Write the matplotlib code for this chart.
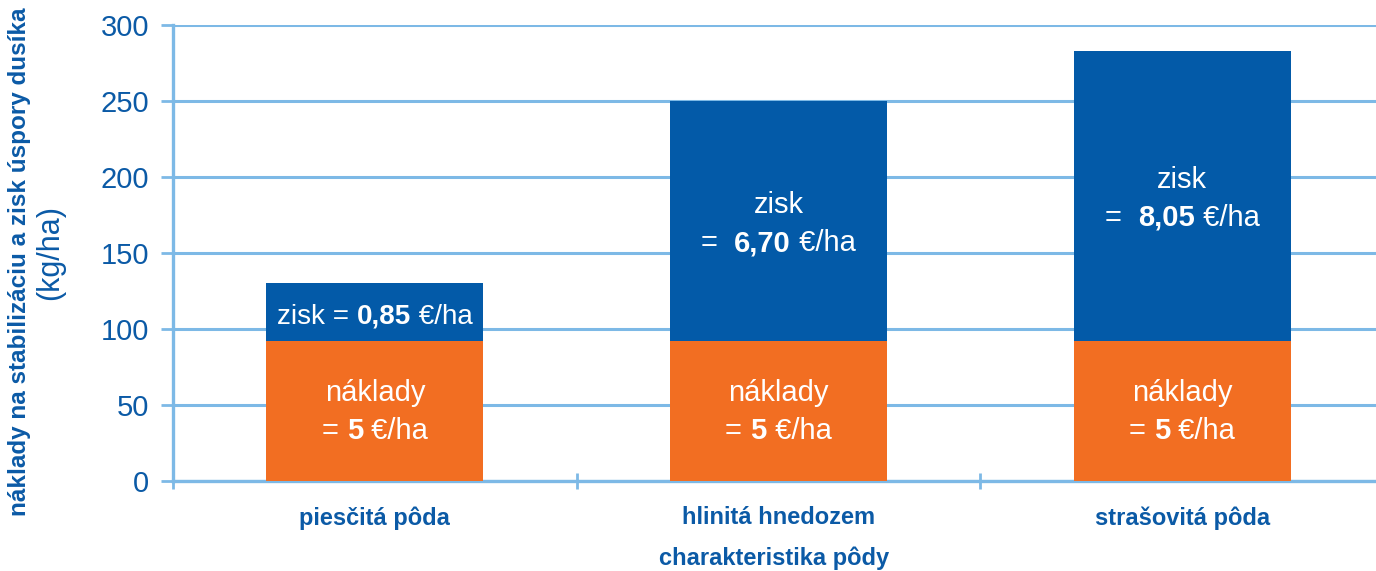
import matplotlib
matplotlib.use("Agg")
import matplotlib.pyplot as plt
from matplotlib.transforms import ScaledTranslation

# data (kg/ha)
categories = ["piesčitá pôda", "hlinitá hnedozem", "strašovitá pôda"]
naklady = [92, 92, 92]
zisk = [38, 158, 191]
zisk_eur = ["0,85", "6,70", "8,05"]
naklady_eur = ["5", "5", "5"]

ORANGE = "#f26e22"
BLUE = "#035aa8"
DARK = "#0b5aa6"
LIGHT = "#7db9e6"

plt.rcParams['font.family'] = ['Liberation Sans', 'DejaVu Sans']

fig = plt.figure(figsize=(13.76, 5.71), dpi=100)
ax = fig.add_axes([173 / 1376, 1 - 481 / 571, 1 - 173 / 1376, (481 - 25) / 571])

x = list(range(len(categories)))
width = 0.538
ax.bar(x, naklady, width, color=ORANGE, zorder=3)
ax.bar(x, zisk, width, bottom=naklady, color=BLUE, zorder=3)

ax.set_xlim(-0.5, 2.48)
ax.set_ylim(0, 300)
ax.set_yticks(range(0, 301, 50))
ax.set_xticks(x)
ax.set_xticklabels(categories, fontsize=17, weight='bold', color=DARK)
ax.set_xticks([-0.5, 0.5, 1.5], minor=True)

ax.yaxis.grid(True, color=LIGHT, linewidth=2.2, zorder=0)
ax.set_axisbelow(True)
for side in ['top', 'right']:
    ax.spines[side].set_visible(False)
for side in ['left', 'bottom']:
    ax.spines[side].set_color(LIGHT)
    ax.spines[side].set_linewidth(2.4)

ax.tick_params(axis='y', direction='out', length=9, width=2, color=LIGHT,
               labelsize=21, labelcolor=DARK, pad=8)
ax.tick_params(axis='x', which='major', length=0, pad=18)
ax.tick_params(axis='x', which='minor', direction='inout', length=11, width=2, color=LIGHT)

renderer = fig.canvas.get_renderer()


def mixed_line(xc, yc, parts, size=21):
    # draw text pieces of different weight centred on (xc, yc)
    texts, widths = [], []
    for s, w in parts:
        t = ax.text(xc, yc, s, fontsize=size, weight=w, color='white',
                    ha='left', va='center_baseline', zorder=5)
        widths.append(t.get_window_extent(renderer).width)
        texts.append(t)
    off = -sum(widths) / 2
    for t, wd in zip(texts, widths):
        t.set_transform(ax.transData + ScaledTranslation(off / fig.dpi, 0, fig.dpi_scale_trans))
        off += wd


gap = 12.5  # half of line spacing in data units
for i in x:
    mid_n = naklady[i] / 2 + 1.5
    mixed_line(i, mid_n + gap, [("náklady", 'normal')])
    mixed_line(i, mid_n - gap, [("= ", 'normal'), (naklady_eur[i], 'bold'), (" €/ha", 'normal')])
    mid_z = naklady[i] + zisk[i] / 2
    if zisk[i] < 60:
        mixed_line(i, mid_z - 1, [("zisk = ", 'normal'), (zisk_eur[i], 'bold'), (" €/ha", 'normal')], size=20)
    else:
        mixed_line(i, mid_z + gap, [("zisk", 'normal')])
        mixed_line(i, mid_z - gap, [("=  ", 'normal'), (zisk_eur[i], 'bold'), (" €/ha", 'normal')])

fig.text(20 / 1376, 1 - 262 / 571, "náklady na stabilizáciu a zisk úspory dusíka",
         rotation=90, ha='center', va='center', fontsize=17.5, weight='bold', color=DARK)
fig.text(50 / 1376, 1 - 253 / 571, "(kg/ha)", rotation=90, ha='center', va='center',
         fontsize=22, color=DARK)
fig.text(774 / 1376, 1 - 558 / 571, "charakteristika pôdy", ha='center', va='center',
         fontsize=17, weight='bold', color=DARK)

fig.savefig("out.png", dpi=100)
